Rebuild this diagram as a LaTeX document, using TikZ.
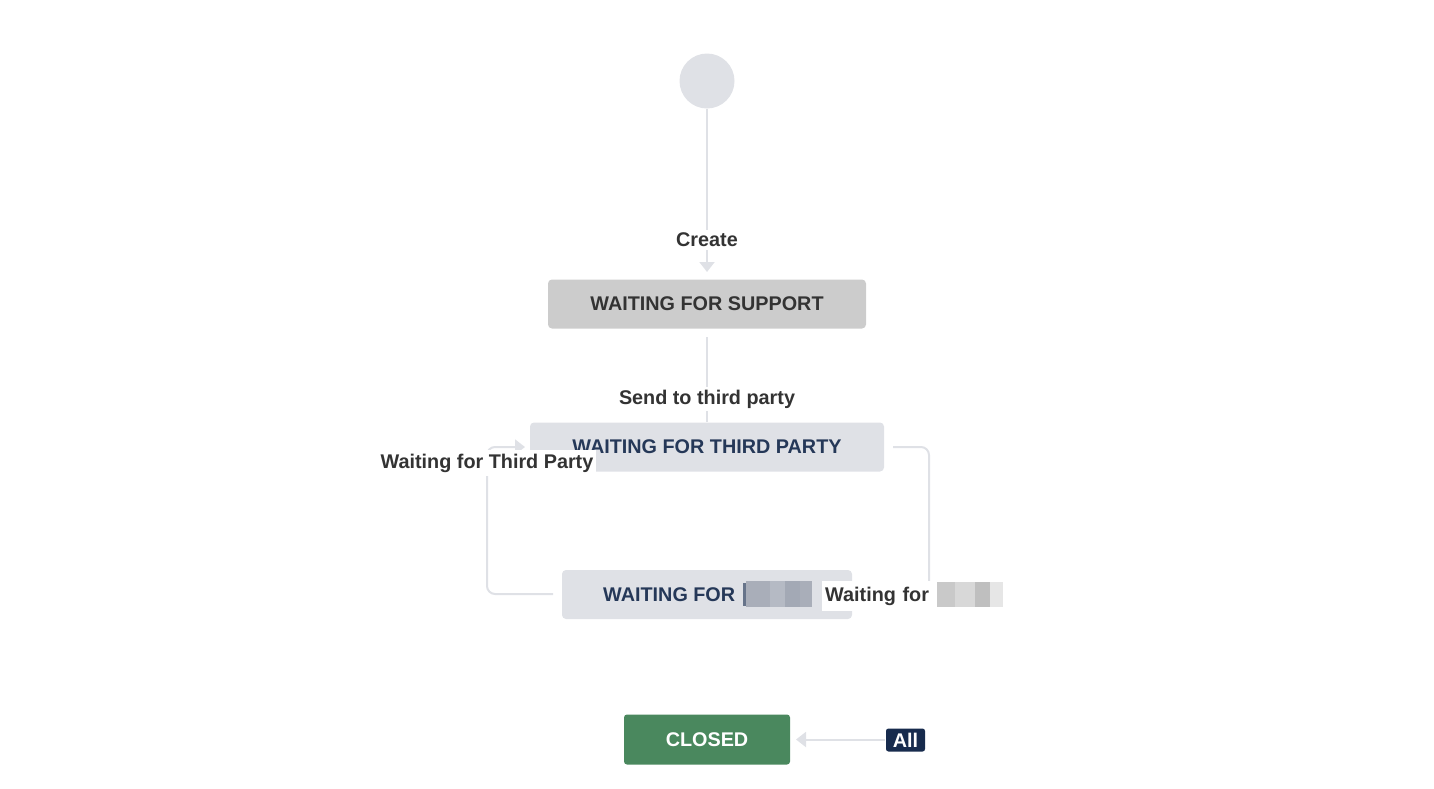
\documentclass[tikz,border=0pt]{standalone}
\usepackage{fontspec}
\setmainfont{Liberation Sans}
\usetikzlibrary{arrows.meta}
\definecolor{linegrey}{HTML}{DFE1E6}
\definecolor{supgrey}{HTML}{CCCCCC}
\definecolor{lightbox}{HTML}{DFE1E6}
\definecolor{navy}{HTML}{253858}
\definecolor{darktext}{HTML}{333333}
\definecolor{closedgreen}{HTML}{4A885E}
\definecolor{allnavy}{HTML}{172B4D}
\definecolor{blurA}{HTML}{A9AEB9}
\definecolor{blurB}{HTML}{B5BAC4}
\definecolor{blurC}{HTML}{A3A9B5}
\definecolor{blurD}{HTML}{C9C9C9}
\definecolor{blurE}{HTML}{D8D8D8}
\definecolor{blurF}{HTML}{BFBFBF}
\definecolor{blurG}{HTML}{E6E6E6}
\tikzset{
  x=1pt, y=-1pt,
  txt/.style={font=\fontsize{19.8}{22}\selectfont\bfseries},
  statebox/.style={txt, rectangle, rounded corners=4pt, minimum height=49pt, inner sep=0pt, text=navy, fill=lightbox},
  conn/.style={draw=linegrey, line width=2pt, -{Triangle[width=15pt,length=10pt,fill=linegrey]}},
  plainconn/.style={draw=linegrey, line width=2pt},
  tlabel/.style={txt, fill=white, text=darktext, inner sep=3pt},
}
\begin{document}
\begin{tikzpicture}
\useasboundingbox (0,0) rectangle (1434,788);
\node[circle, fill=lightbox, minimum size=55pt, inner sep=0pt] (start) at (707,81) {};

% connectors first
\path[conn, shorten >=7pt] (start.south) -- (707,279);
\path[plainconn] (707,337) -- (707,422);
\path[conn, rounded corners=8pt] (553,594) -| (487,447) -- (525,447);
\path[conn, rounded corners=8pt] (893,447) -| (929,594) -- (858,594);
\path[conn] (885,739.5) -- (796,739.5);

% state boxes
\node[statebox, fill=supgrey, text=darktext, minimum width=318pt] (sup) at (707,304) {WAITING FOR SUPPORT};
\node[statebox, minimum width=354pt] (tp) at (707,447) {WAITING FOR THIRD PARTY};
\node[statebox, minimum width=290pt] (wx) at (707,594.5) {};
\node[txt, text=navy, anchor=west, inner sep=0pt] (wxt) at (603,595) {WAITING FOR};
\fill[navy!70] (743,583) rectangle (746,606);
\fill[blurA] (746,581) rectangle (770,607);
\fill[blurB] (770,581) rectangle (785,607);
\fill[blurC] (785,581) rectangle (800,607);
\fill[blurA] (800,581) rectangle (812,607);
\node[statebox, fill=closedgreen, text=white, minimum width=166pt, minimum height=50pt, rounded corners=3pt] (closed) at (707,739.5) {CLOSED};

% labels
\node[tlabel] (lcreate) at (707,240) {Create};
\node[tlabel] (lsend) at (707,399) {Send to third party};
\node[tlabel, minimum height=26pt] (lwtp) at (487,463) {Waiting for Third Party};
\node[tlabel, anchor=west, minimum height=30pt, minimum width=181pt, text width=175pt, align=left] (lwx) at (822,596) {Waiting for};
\fill[blurD] (937,582) rectangle (955,607);
\fill[blurE] (955,582) rectangle (975,607);
\fill[blurF] (975,582) rectangle (990,607);
\fill[blurG] (990,582) rectangle (1003,607);
\node[txt, fill=allnavy, text=white, rounded corners=2.5pt, minimum width=39pt, minimum height=23pt, inner sep=0pt] (all) at (905.5,740) {All};
\end{tikzpicture}
\end{document}
